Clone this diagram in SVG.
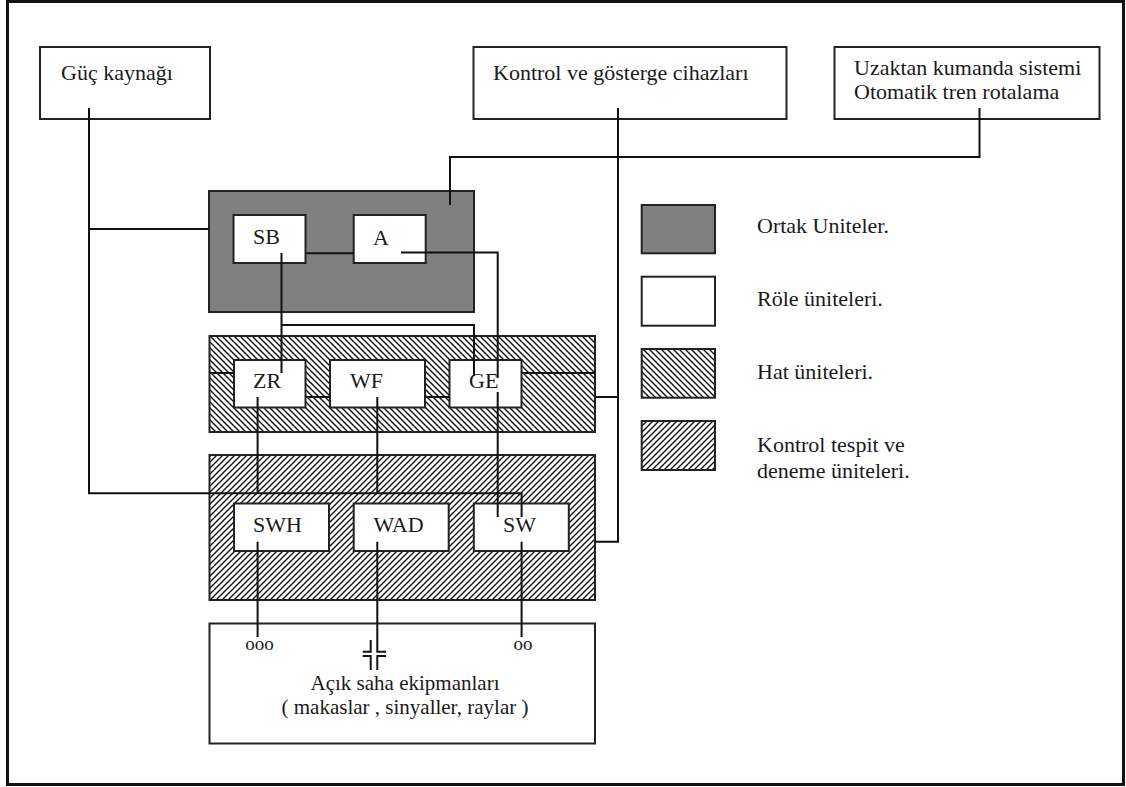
<svg xmlns="http://www.w3.org/2000/svg" width="1126" height="787" viewBox="0 0 1126 787">
<defs>
<style>
.box{fill:#fff;stroke:#222;stroke-width:2}
.gray{fill:#808080;stroke:#222;stroke-width:2}
.h1{fill:url(#hatchBack);stroke:#222;stroke-width:2}
.h2{fill:url(#hatchFwd);stroke:#222;stroke-width:2}
.t{font-family:"Liberation Serif","DejaVu Serif",serif;font-size:22px;fill:#1a1a1a}
.e{font-family:"Liberation Serif","DejaVu Serif",serif;font-size:21px;fill:#1a1a1a}
.s{font-family:"Liberation Serif","DejaVu Serif",serif;font-size:19px;fill:#1a1a1a}
.c{fill:none;stroke:#111;stroke-width:2}
</style>
<pattern id="hatchBack" patternUnits="userSpaceOnUse" width="6" height="6">
<rect width="6" height="6" fill="#fff"/>
<path d="M-1,-1 L7,7 M-1,5 L1,7 M5,-1 L7,1" stroke="#111" stroke-width="1.4"/>
</pattern>
<pattern id="hatchFwd" patternUnits="userSpaceOnUse" width="6" height="6">
<rect width="6" height="6" fill="#fff"/>
<path d="M-1,7 L7,-1 M-1,1 L1,-1 M5,7 L7,5" stroke="#111" stroke-width="1.4"/>
</pattern>
</defs>
<rect x="0" y="0" width="1126" height="787" fill="#fff"/>
<rect id="frame" x="7.5" y="1.5" width="1116" height="783" fill="none" stroke="#111" stroke-width="3"/>

<g id="guc-kaynagi"><rect class="box" x="40" y="47" width="170" height="72"/><text class="t" x="61" y="80">Güç kaynağı</text></g>
<g id="kontrol-gosterge"><rect class="box" x="473.5" y="47" width="313" height="72"/><text class="t" x="493" y="80">Kontrol ve gösterge cihazları</text></g>
<g id="uzaktan-kumanda"><rect class="box" x="834.5" y="47" width="265" height="72"/><text class="t" x="854" y="75">Uzaktan kumanda sistemi</text><text class="t" x="854" y="99">Otomatik tren rotalama</text></g>

<g id="ortak-uniteler"><rect class="gray" x="209" y="191" width="265" height="121"/></g>
<g id="hat-uniteleri"><rect class="h1" x="209.5" y="336" width="385.5" height="96"/></g>
<g id="kontrol-tespit"><rect class="h2" x="209.5" y="455" width="385.5" height="145"/></g>
<g id="acik-saha"><rect class="box" x="209.5" y="623.5" width="385.5" height="120"/>
<text class="e" x="405" y="690" text-anchor="middle">Açık saha ekipmanları</text>
<text class="e" x="405" y="714" text-anchor="middle">( makaslar , sinyaller, raylar )</text>
<text class="s" x="259.5" y="650" text-anchor="middle">ooo</text>
<text class="s" x="523" y="650" text-anchor="middle">oo</text>
</g>

<g id="SB"><rect class="box" x="233.5" y="215" width="72" height="48"/><text class="t" x="253" y="244">SB</text></g>
<g id="A"><rect class="box" x="353.7" y="215" width="72" height="48"/><text class="t" x="373" y="245">A</text></g>
<g id="ZR"><rect class="box" x="234" y="360" width="71.5" height="47.5"/><text class="t" x="253" y="388">ZR</text></g>
<g id="WF"><rect class="box" x="330" y="360" width="95" height="47.5"/><text class="t" x="350" y="388">WF</text></g>
<g id="GE"><rect class="box" x="449.5" y="360" width="72" height="47.5"/><text class="t" x="469" y="388">GE</text></g>
<g id="SWH"><rect class="box" x="234" y="503.5" width="95" height="47.5"/><text class="t" x="253" y="532">SWH</text></g>
<g id="WAD"><rect class="box" x="353.7" y="503.5" width="95" height="47.5"/><text class="t" x="373.5" y="532">WAD</text></g>
<g id="SW"><rect class="box" x="473.8" y="503.5" width="95" height="47.5"/><text class="t" x="503" y="532">SW</text></g>

<g id="legend">
<rect class="gray" x="641.7" y="205" width="73.3" height="48.3"/>
<rect class="box" x="641.7" y="276.7" width="73.3" height="49"/>
<rect class="h1" x="641.7" y="349" width="73.3" height="48.7"/>
<rect class="h2" x="641.7" y="421" width="73.3" height="49"/>
<text class="t" x="757" y="233">Ortak Uniteler.</text>
<text class="t" x="757" y="306">Röle üniteleri.</text>
<text class="t" x="757" y="379">Hat üniteleri.</text>
<text class="t" x="757" y="452">Kontrol tespit ve</text>
<text class="t" x="757" y="478">deneme üniteleri.</text>
</g>

<g id="connectors">
<path class="c" d="M89,108 V493.3 H521.6 V517"/>
<path class="c" d="M89,229 H209"/>
<path class="c" d="M618,108 V541.7 H595"/>
<path class="c" d="M595,397 H618"/>
<path class="c" d="M979.5,108 V157 H450 V205"/>
<path class="c" d="M305.5,253.3 H353.7"/>
<path class="c" d="M401,252.5 H497.7 V378"/>
<path class="c" d="M497.7,392 V517"/>
<path class="c" d="M281.5,253 V373"/>
<path class="c" d="M281.5,325 H474 V376"/>
<path class="c" d="M209.5,373 H234"/>
<path class="c" d="M521.6,373 H595"/>
<path class="c" d="M305.5,397 H330"/>
<path class="c" d="M425,397 H449.5"/>
<path class="c" d="M257.6,397 V493.3"/>
<path class="c" d="M377.3,397 V493.3"/>
<path class="c" d="M257.6,541.7 V637"/>
<path class="c" d="M521.6,541.7 V637"/>
<path class="c" d="M377.3,541.7 V651.7 H386"/>
<path class="c" d="M362.7,651.7 H370.7 V640"/>
<path class="c" d="M362.7,656 H370.7 V670"/>
<path class="c" d="M386,656 H377.3 V670"/>
</g>
</svg>
